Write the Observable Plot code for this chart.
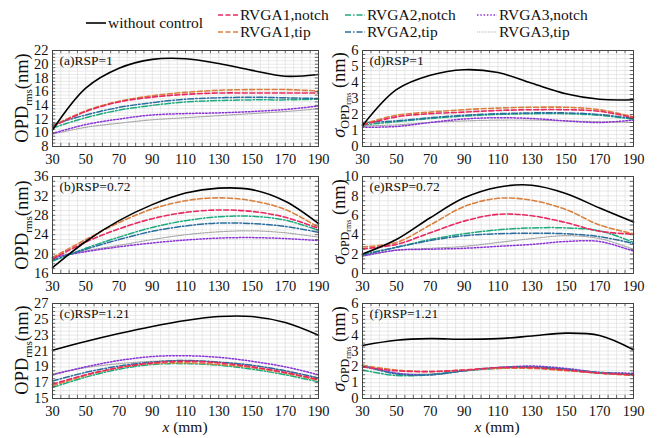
<!DOCTYPE html>
<html><head><meta charset="utf-8">
<script src="https://cdn.jsdelivr.net/npm/d3@7"></script>
<script src="https://cdn.jsdelivr.net/npm/@observablehq/plot@0.6"></script>
<style>
body{margin:0;background:#fff;}
#root{position:relative;width:664px;height:438px;overflow:hidden;background:#fff;}
#root, #root div, #root svg, #root svg text{font-family:"Liberation Serif","Times New Roman",serif !important;}
.plot{position:absolute;}
</style></head><body><div id="root"></div>
<script>
// ---- data ----
const xs = [30, 50, 70, 90, 110, 130, 150, 170, 190];
const seriesNames = ["without control", "RVGA1,notch", "RVGA1,tip", "RVGA2,notch", "RVGA2,tip", "RVGA3,notch", "RVGA3,tip"];
const xTicks = [30, 50, 70, 90, 110, 130, 150, 170, 190];

// each panel: rows in seriesNames order
const panelA = [
  [10.4, 16.5, 19.4, 20.7, 20.8, 20.1, 19.1, 18.25, 18.5],
  [10.9, 13.1, 14.5, 15.2, 15.6, 15.8, 15.8, 15.8, 15.8],
  [11.0, 13.2, 14.6, 15.4, 15.9, 16.2, 16.3, 16.3, 16.1],
  [10.7, 12.2, 13.3, 14.0, 14.5, 14.7, 14.8, 14.8, 14.9],
  [11.2, 12.6, 13.7, 14.4, 14.9, 15.1, 15.2, 15.1, 15.0],
  [9.9, 11.2, 12.0, 12.6, 12.8, 12.9, 13.1, 13.4, 13.9],
  [9.8, 10.8, 11.4, 11.9, 12.2, 12.5, 12.8, 13.1, 13.5]
];
const panelB = [
  [17.2, 22.6, 26.9, 30.2, 32.6, 33.6, 33.3, 30.9, 26.3],
  [19.0, 22.5, 25.2, 27.3, 28.6, 29.1, 28.8, 27.6, 25.3],
  [19.3, 23.0, 26.5, 29.3, 31.0, 31.6, 31.0, 29.2, 25.5],
  [18.5, 21.2, 23.5, 25.5, 26.9, 27.7, 27.8, 27.0, 24.9],
  [18.8, 21.0, 23.0, 24.7, 25.8, 26.4, 26.3, 25.7, 24.5],
  [19.3, 20.5, 21.5, 22.3, 22.9, 23.3, 23.4, 23.2, 22.8],
  [19.5, 20.7, 21.8, 23.0, 24.0, 24.6, 24.8, 24.4, 23.5]
];
const panelC = [
  [21.1, 22.2, 23.2, 24.1, 24.85, 25.35, 25.35, 24.6, 23.0],
  [16.8, 18.0, 18.9, 19.5, 19.7, 19.5, 19.0, 18.3, 17.4],
  [16.6, 17.9, 18.9, 19.4, 19.5, 19.3, 18.9, 18.2, 17.3],
  [16.4, 17.7, 18.7, 19.3, 19.4, 19.2, 18.7, 18.0, 17.1],
  [17.2, 18.3, 19.1, 19.6, 19.8, 19.6, 19.2, 18.5, 17.6],
  [18.0, 19.0, 19.8, 20.3, 20.4, 20.2, 19.7, 19.0, 18.0],
  [18.1, 18.9, 19.4, 19.7, 19.8, 19.6, 19.2, 18.5, 17.6]
];
const panelD = [
  [1.3, 3.55, 4.45, 4.8, 4.62, 3.95, 3.3, 2.95, 2.92],
  [1.35, 1.85, 2.05, 2.15, 2.25, 2.3, 2.3, 2.2, 1.8],
  [1.4, 1.95, 2.15, 2.3, 2.4, 2.45, 2.45, 2.3, 1.85],
  [1.35, 1.55, 1.75, 1.9, 2.0, 2.05, 2.05, 1.95, 1.7],
  [1.5, 1.6, 1.8, 1.95, 2.05, 2.1, 2.1, 2.0, 1.75],
  [1.2, 1.25, 1.5, 1.72, 1.8, 1.75, 1.6, 1.5, 1.65],
  [1.3, 1.35, 1.5, 1.6, 1.65, 1.65, 1.6, 1.55, 1.5]
];
const panelE = [
  [2.0, 3.5, 5.75, 7.8, 8.9, 9.1, 8.25, 6.75, 5.3],
  [2.55, 3.0, 4.2, 5.4, 6.1, 5.95, 5.25, 4.35, 4.05],
  [2.75, 3.2, 5.0, 6.9, 7.75, 7.55, 6.6, 5.0, 4.1],
  [2.0, 2.7, 3.5, 4.1, 4.5, 4.7, 4.7, 4.4, 3.2],
  [1.9, 2.7, 3.4, 3.9, 4.1, 4.15, 4.1, 3.8, 3.1],
  [1.8, 2.4, 2.5, 2.6, 2.8, 3.0, 3.3, 3.3, 2.3],
  [1.8, 2.4, 2.6, 2.8, 3.2, 3.6, 3.9, 3.6, 2.5]
];
const panelF = [
  [3.35, 3.68, 3.78, 3.74, 3.78, 3.95, 4.13, 3.98, 3.08],
  [2.0, 1.75, 1.7, 1.8, 1.95, 1.95, 1.8, 1.6, 1.5],
  [2.1, 1.8, 1.7, 1.8, 1.9, 1.9, 1.75, 1.6, 1.45],
  [1.8, 1.45, 1.5, 1.75, 1.9, 1.95, 1.8, 1.6, 1.5],
  [2.1, 1.55, 1.5, 1.75, 1.95, 2.0, 1.85, 1.65, 1.55],
  [2.1, 1.6, 1.5, 1.75, 1.95, 2.05, 1.9, 1.65, 1.6],
  [2.0, 1.6, 1.55, 1.75, 1.95, 2.0, 1.85, 1.6, 1.55]
];

// ---- styles ----
const FONT = '"Liberation Serif", "Times New Roman", serif';
const styles = {
  "without control": {stroke: "#000", strokeWidth: 1.6, dash: null},
  "RVGA1,notch": {stroke: "#e8285e", strokeWidth: 1.6, dash: "5,2.5"},
  "RVGA1,tip": {stroke: "#d9803e", strokeWidth: 1.6, dash: "5,2.5"},
  "RVGA2,notch": {stroke: "#1ea97f", strokeWidth: 1.5, dash: "6,2,1.5,2"},
  "RVGA2,tip": {stroke: "#2a6d9e", strokeWidth: 1.5, dash: "6,2,1.5,2"},
  "RVGA3,notch": {stroke: "#8b32d6", strokeWidth: 1.5, dash: "1.5,1.8"},
  "RVGA3,tip": {stroke: "#a6a6a6", strokeWidth: 1.2, dash: "1,1.2"}
};
const drawOrder = ["RVGA3,tip", "RVGA3,notch", "RVGA2,notch", "RVGA2,tip", "RVGA1,tip", "RVGA1,notch", "without control"];

const root = document.getElementById("root");

// ---- legend ----
const legendItems = [
  {name: "without control", x: 86, y: 23},
  {name: "RVGA1,notch", x: 218, y: 15},
  {name: "RVGA1,tip", x: 218, y: 32},
  {name: "RVGA2,notch", x: 345, y: 15},
  {name: "RVGA2,tip", x: 345, y: 32},
  {name: "RVGA3,notch", x: 477, y: 15},
  {name: "RVGA3,tip", x: 477, y: 32}
];
const legSvg = d3.select(root).append("svg")
  .attr("width", 664).attr("height", 44)
  .style("position", "absolute").style("left", "0px").style("top", "0px");
legendItems.forEach(it => {
  const st = styles[it.name];
  legSvg.append("line").attr("x1", it.x).attr("x2", it.x + 20).attr("y1", it.y).attr("y2", it.y)
    .attr("stroke", st.stroke).attr("stroke-width", st.strokeWidth)
    .attr("stroke-dasharray", st.dash);
  legSvg.append("text").attr("x", it.x + 22).attr("y", it.y).attr("dy", "0.34em")
    .style("font-family", FONT).attr("font-size", 15.5)
    .attr("fill", "#111").text(it.name);
});

// ---- panels ----
function panel(cfg) {
  const {data, yDomain, yTicks, yMinor, left, top, width, height, mL, mR, mT, mB, label} = cfg;
  const rows = [];
  seriesNames.forEach((s, i) => xs.forEach((x, j) => rows.push({series: s, x, y: data[i][j]})));
  const xMinor = d3.range(30, 190.001, 5);
  const fh = height - mT - mB;
  const fw = width - mL - mR;
  const tk = 3.2;
  const marks = [
    Plot.gridX(xMinor, {stroke: "#dedede", strokeOpacity: 1, strokeWidth: 0.7}),
    Plot.gridY(yMinor, {stroke: "#dedede", strokeOpacity: 1, strokeWidth: 0.7}),
    ...drawOrder.map(s => Plot.lineY(rows.filter(r => r.series === s), {
      x: "x", y: "y", stroke: styles[s].stroke, strokeWidth: styles[s].strokeWidth,
      strokeDasharray: styles[s].dash, curve: "catmull-rom"
    })),
    Plot.tickX(xMinor, {x: d => d, insetTop: fh - tk, stroke: "#444", strokeWidth: 0.8}),
    Plot.tickX(xMinor, {x: d => d, insetBottom: fh - tk, stroke: "#444", strokeWidth: 0.8}),
    Plot.tickY(yMinor, {y: d => d, insetRight: fw - tk, stroke: "#444", strokeWidth: 0.8}),
    Plot.tickY(yMinor, {y: d => d, insetLeft: fw - tk, stroke: "#444", strokeWidth: 0.8}),
    Plot.frame({stroke: "#444", strokeWidth: 1}),
    Plot.axisX({ticks: xTicks, tickSize: 0, tickPadding: 7, tickFormat: d => String(d), label: null, fontFamily: FONT}),
    Plot.axisY({ticks: yTicks, tickSize: 0, tickPadding: 4, tickFormat: d => String(d), label: null, fontFamily: FONT}),
    Plot.text([label], {frameAnchor: "top-left", text: d => d, dx: 7, dy: 10, textAnchor: "start", lineAnchor: "middle", fontSize: 13.5, fontFamily: FONT, fill: "#111"})
  ];
  const chart = Plot.plot({
    width, height, marginLeft: mL, marginRight: mR, marginTop: mT, marginBottom: mB,
    x: {domain: [30, 190]},
    y: {domain: yDomain},
    style: {fontFamily: FONT, fontSize: "14.5px", color: "#111", background: "transparent", overflow: "visible"},
    marks
  });
  chart.classList.add("plot");
  chart.style.left = left + "px";
  chart.style.top = top + "px";
  root.appendChild(chart);
}

const colL = {left: 0, width: 330, mL: 52, mR: 12};
const colR = {left: 320, width: 344, mL: 42, mR: 31};
const row1 = {top: 40, height: 128, mT: 10, mB: 22};
const row2 = {top: 166, height: 129, mT: 10, mB: 22};
const row3 = {top: 293, height: 145, mT: 10, mB: 40};

panel({...colL, ...row1, data: panelA, yDomain: [8, 22], yTicks: d3.range(8, 22.01, 2), yMinor: d3.range(8, 22.01, 0.5), label: "(a)RSP=1"});
panel({...colL, ...row2, data: panelB, yDomain: [16, 36], yTicks: d3.range(16, 36.01, 4), yMinor: d3.range(16, 36.01, 1), label: "(b)RSP=0.72"});
panel({...colL, ...row3, data: panelC, yDomain: [15, 27], yTicks: d3.range(15, 27.01, 2), yMinor: d3.range(15, 27.01, 0.5), label: "(c)RSP=1.21"});
panel({...colR, ...row1, data: panelD, yDomain: [0, 6], yTicks: d3.range(0, 6.01, 1), yMinor: d3.range(0, 6.01, 0.25), label: "(d)RSP=1"});
panel({...colR, ...row2, data: panelE, yDomain: [0, 10], yTicks: d3.range(0, 10.01, 2), yMinor: d3.range(0, 10.01, 0.5), label: "(e)RSP=0.72"});
panel({...colR, ...row3, data: panelF, yDomain: [0, 6], yTicks: d3.range(0, 6.01, 1), yMinor: d3.range(0, 6.01, 0.25), label: "(f)RSP=1.21"});

// ---- axis titles (SVG overlay) ----
const ov = d3.select(root).append("svg")
  .attr("width", 664).attr("height", 438)
  .style("position", "absolute").style("left", "0px").style("top", "0px")
  .style("pointer-events", "none");
function addLeftY(x, y) {
  const t = ov.append("text").attr("transform", `translate(${x},${y}) rotate(-90)`)
    .attr("text-anchor", "middle").style("font-family", FONT).attr("fill", "#111");
  t.append("tspan").attr("font-size", 18.5).text("OPD");
  t.append("tspan").attr("font-size", 11).attr("dy", 3.5).text("rms");
  t.append("tspan").attr("font-size", 18.5).attr("dy", -3.5).text("(nm)");
}
function addRightY(x, y) {
  const t = ov.append("text").attr("transform", `translate(${x},${y}) rotate(-90)`)
    .attr("text-anchor", "middle").style("font-family", FONT).attr("fill", "#111");
  t.append("tspan").attr("font-size", 18.5).attr("font-style", "italic").text("σ");
  t.append("tspan").attr("font-size", 12).attr("dy", 3.5).text("OPD");
  t.append("tspan").attr("font-size", 8).attr("dy", 2.5).text("rms");
  t.append("tspan").attr("font-size", 18.5).attr("dy", -6).text("\u00a0(nm)");
}
addLeftY(28, 98); addLeftY(28, 225); addLeftY(28, 350);
addRightY(345, 95); addRightY(345, 222); addRightY(345, 349);
function addX(x, y) {
  const t = ov.append("text").attr("x", x).attr("y", y).attr("dy", "0.34em")
    .attr("text-anchor", "middle").style("font-family", FONT).attr("font-size", 15.5).attr("fill", "#111");
  t.append("tspan").attr("font-style", "italic").text("x");
  t.append("tspan").text(" (mm)");
}
addX(185, 427); addX(497, 427);
</script>
</body></html>
